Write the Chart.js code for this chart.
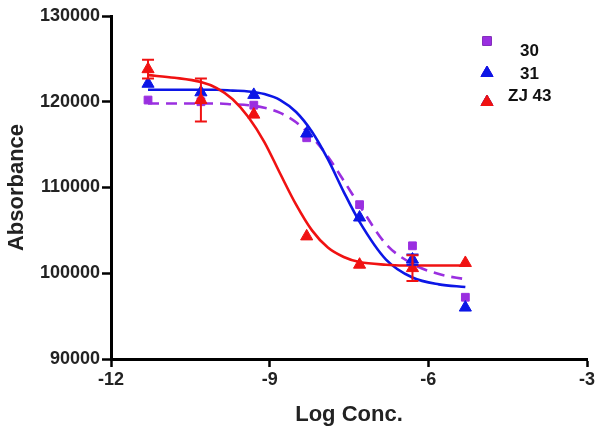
<!DOCTYPE html>
<html lang="en">
<head>
  <meta charset="UTF-8" />
  <title>Absorbance vs Log Conc.</title>
  <script src="https://cdn.jsdelivr.net/npm/chart.js"></script>
  <style>
    body { margin: 0; background: #fff; }
    #wrap { width: 600px; height: 433px; position: relative; }
  </style>
</head>
<body>
  <div id="wrap"><canvas id="chart" width="600" height="433"></canvas></div>

  <script>
    // measured points (log conc.)
    const xVals = [-11.3, -10.3, -9.3, -8.3, -7.3, -6.3, -5.3];
    const y30   = [120200, 120000, 119600, 115800, 108000, 103200, 97200];
    const y31   = [122100, 121100, 120800, 116300, 106500, 101600, 96000];
    const yZJ43 = [123800, 120200, 118500, 104300, 101000, 100600, 101200];
    const err30   = [0, 0, 0, 0, 0, 0, 0];
    const err31   = [0, 0, 0, 0, 0, 600, 0];
    const errZJ43 = [1100, 2500, 0, 0, 0, 1500, 0];

    // fitted curves
    const curveX = [-11.3, -10.8, -10.3, -10.0, -9.7, -9.4, -9.1, -8.8, -8.5, -8.2, -7.9, -7.6, -7.3, -6.8, -6.3, -5.8, -5.3];
    const fit30   = [119800, 119800, 119800, 119800, 119700, 119600, 119300, 118700, 117600, 115900, 113600, 110800, 107900, 103400, 101100, 99900, 99300];
    const fit31   = [121400, 121400, 121400, 121400, 121300, 121200, 120900, 120200, 118800, 116500, 113300, 109500, 106000, 101600, 99500, 98700, 98400];
    const fitZJ43 = [123100, 122800, 122300, 121600, 120300, 118200, 115300, 111600, 108000, 105000, 103000, 101900, 101300, 101000, 100900, 100900, 100900];

    const xTicks = [-12, -9, -6, -3];
    const yTicks = [90000, 100000, 110000, 120000, 130000];
    const seriesNames = ['30', '31', 'ZJ 43'];

    const purple = '#9a2fe0';
    const blue = '#0c16e6';
    const red = '#f01212';

    const pts = (xs, ys) => xs.map((x, i) => ({ x: x, y: ys[i] }));

    function curve(ys, color, dash, order) {
      return {
        data: pts(curveX, ys),
        showLine: true,
        borderColor: color,
        borderWidth: 2.6,
        borderDash: dash,
        pointRadius: 0,
        cubicInterpolationMode: 'monotone',
        order: order
      };
    }

    function markers(ys, errs, color, style, r, order) {
      return {
        data: pts(xVals, ys),
        errors: errs,
        showLine: false,
        pointStyle: style,
        pointRadius: r,
        backgroundColor: color,
        borderColor: color,
        borderWidth: 1,
        order: order
      };
    }

    // error bars drawn through the chart's own scales
    const errorBars = {
      id: 'errorBars',
      afterDatasetsDraw(chart) {
        const ctx = chart.ctx;
        const xs = chart.scales.x, ys = chart.scales.y;
        chart.data.datasets.forEach(ds => {
          if (!ds.errors) return;
          ctx.save();
          ctx.strokeStyle = ds.borderColor;
          ctx.lineWidth = 2;
          ds.data.forEach((p, i) => {
            const e = ds.errors[i];
            if (!e) return;
            const px = xs.getPixelForValue(p.x);
            const top = ys.getPixelForValue(p.y + e);
            const bot = ys.getPixelForValue(p.y - e);
            ctx.beginPath();
            ctx.moveTo(px, top); ctx.lineTo(px, bot);
            ctx.moveTo(px - 6, top); ctx.lineTo(px + 6, top);
            ctx.moveTo(px - 6, bot); ctx.lineTo(px + 6, bot);
            ctx.stroke();
          });
          ctx.restore();
        });
      }
    };

    // legend in the top right corner
    const cornerLegend = {
      id: 'cornerLegend',
      afterDraw(chart) {
        const ctx = chart.ctx;
        const items = [
          { style: 'rect', color: purple, mx: 487, my: 41, tx: 520, ty: 51 },
          { style: 'triangle', color: blue, mx: 487, my: 73, tx: 520, ty: 74 },
          { style: 'triangle', color: red, mx: 487, my: 102, tx: 508, ty: 96 }
        ];
        ctx.save();
        ctx.font = 'bold 17px "Liberation Sans", Arial, sans-serif';
        ctx.textBaseline = 'middle';
        ctx.fillStyle = '#111';
        items.forEach((it, i) => {
          Chart.helpers.drawPoint(ctx, {
            pointStyle: it.style, radius: it.style === 'rect' ? 6 : 7, rotation: 0, borderWidth: 1
          }, it.mx, it.my);
          ctx.fillStyle = it.color;
          ctx.strokeStyle = it.color;
          ctx.fill();
          ctx.stroke();
          ctx.fillStyle = '#111';
          ctx.fillText(seriesNames[i], it.tx, it.ty);
        });
        ctx.restore();
      }
    };

    const tickFont = { family: '"Liberation Sans", Arial, sans-serif', size: 18, weight: 'bold' };
    const titleFont = { family: '"Liberation Sans", Arial, sans-serif', size: 22, weight: 'bold' };

    new Chart(document.getElementById('chart'), {
      type: 'scatter',
      data: {
        datasets: [
          curve(fit30, purple, [11, 7], 6),
          curve(fit31, blue, [], 5),
          curve(fitZJ43, red, [], 4),
          markers(y30, err30, purple, 'rect', 5.5, 3),
          markers(y31, err31, blue, 'triangle', 7, 2),
          markers(yZJ43, errZJ43, red, 'triangle', 7, 1)
        ]
      },
      options: {
        responsive: false,
        animation: false,
        devicePixelRatio: 1,
        layout: { padding: { top: 16, right: 13, left: 0, bottom: 0 } },
        plugins: { legend: { display: false }, tooltip: { enabled: false } },
        scales: {
          x: {
            type: 'linear',
            min: -12,
            max: -3,
            afterBuildTicks: s => { s.ticks = xTicks.map(v => ({ value: v })); },
            afterFit: s => { s.height = 74; },
            border: { display: true, color: '#000', width: 3 },
            grid: { display: true, drawOnChartArea: false, drawTicks: true, tickLength: 8, tickWidth: 2.5, tickColor: '#000' },
            ticks: { color: '#222', font: tickFont, padding: 2, maxRotation: 0 },
            title: { display: true, text: 'Log Conc.', color: '#222', font: titleFont, padding: { top: 0, bottom: 5 } }
          },
          y: {
            type: 'linear',
            min: 90000,
            max: 130000,
            afterBuildTicks: s => { s.ticks = yTicks.map(v => ({ value: v })); },
            afterFit: s => { s.width = 111; },
            border: { display: true, color: '#000', width: 3 },
            grid: { display: true, drawOnChartArea: false, drawTicks: true, tickLength: 9, tickWidth: 2.5, tickColor: '#000' },
            ticks: { color: '#222', font: tickFont, padding: 2, callback: v => String(v) },
            title: { display: true, text: 'Absorbance', color: '#222', font: titleFont, padding: { top: 4, bottom: 0 } }
          }
        }
      },
      plugins: [errorBars, cornerLegend]
    });
  </script>
</body>
</html>
